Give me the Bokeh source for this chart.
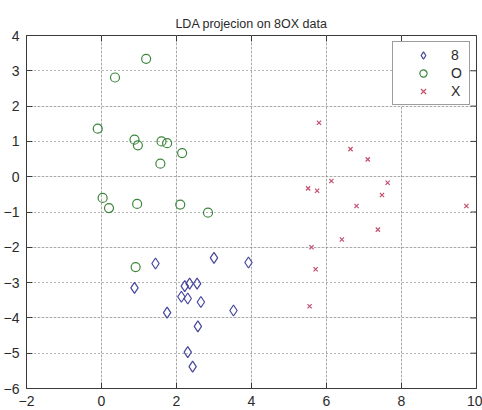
import math
from bokeh.plotting import figure
from bokeh.models import (LinearAxis, Range1d, FixedTicker, Legend, LegendItem,
                          Grid, ColumnDataSource)
from bokeh.embed import file_html
from bokeh.resources import INLINE

# ---- data ----
x_8 = [0.88, 1.44, 3.00, 3.92, 2.22, 2.35, 2.55, 2.13, 2.30, 2.65, 1.75, 3.52, 2.57, 2.30, 2.43]
y_8 = [-3.15, -2.46, -2.30, -2.43, -3.10, -3.03, -3.03, -3.40, -3.45, -3.55, -3.85, -3.79, -4.24, -4.97, -5.38]

x_O = [-0.10, 0.36, 1.19, 0.88, 0.97, 1.60, 1.75, 1.57, 2.15, 0.03, 0.20, 0.95, 2.10, 2.84, 0.91]
y_O = [1.36, 2.81, 3.34, 1.05, 0.89, 1.00, 0.95, 0.37, 0.67, -0.60, -0.89, -0.77, -0.79, -1.02, -2.56]

x_X = [5.80, 6.64, 7.10, 6.13, 5.51, 5.75, 7.63, 7.48, 6.80, 9.73, 7.37, 6.41, 5.60, 5.71, 5.55]
y_X = [1.53, 0.78, 0.49, -0.12, -0.33, -0.40, -0.17, -0.52, -0.83, -0.83, -1.50, -1.78, -2.00, -2.62, -3.67]

series_labels = ["8", "O", "X"]
title_text = "LDA projecion on 8OX data"
x_ticks = [-2, 0, 2, 4, 6, 8, 10]
y_ticks = [-6, -5, -4, -3, -2, -1, 0, 1, 2, 3, 4]
x_min, x_max = -2, 10
y_min, y_max = -6, 4

FONT = "Liberation Sans"
AX_COL = "#3a3a3a"
TXT_COL = "#2a2a2a"

p = figure(width=482, height=410, output_backend="svg", toolbar_location=None, tools="",
           x_range=Range1d(x_min, x_max), y_range=Range1d(y_min, y_max),
           x_axis_location=None, y_axis_location=None,
           min_border_left=25, min_border_right=6, min_border_top=35, min_border_bottom=22,
           background_fill_color="white", border_fill_color="white",
           outline_line_color=AX_COL, outline_line_width=1)

p.title.text = title_text
p.title.align = "center"
p.title.text_font = FONT
p.title.text_font_size = "12.5px"
p.title.text_font_style = "normal"
p.title.text_color = TXT_COL


def make_axis(ticks):
    ax = LinearAxis(ticker=FixedTicker(ticks=ticks))
    ax.major_tick_in = 6
    ax.major_tick_out = 0
    ax.minor_tick_line_color = None
    ax.axis_line_color = AX_COL
    ax.major_tick_line_color = AX_COL
    ax.major_label_text_font = FONT
    ax.major_label_text_font_size = "14px"
    ax.major_label_text_color = TXT_COL
    ax.major_label_standoff = 7
    return ax


p.add_layout(make_axis(x_ticks), "below")
p.add_layout(make_axis(y_ticks), "left")

for dim, ticks in ((0, x_ticks), (1, y_ticks)):
    g = Grid(dimension=dim, ticker=FixedTicker(ticks=ticks))
    g.grid_line_color = "#6a6a6a"
    g.grid_line_dash = "1 3"
    g.grid_line_width = 1
    p.add_layout(g)

# inward ticks on the top and right edges (box on)
p.ray(x=x_ticks, y=[y_max] * len(x_ticks), length=6, length_units="screen",
      angle=-math.pi / 2, line_color=AX_COL, line_width=1)
p.ray(x=[x_max] * len(y_ticks), y=y_ticks, length=6, length_units="screen",
      angle=math.pi, line_color=AX_COL, line_width=1)

src8 = ColumnDataSource(dict(x=x_8, y=y_8))
srcO = ColumnDataSource(dict(x=x_O, y=y_O))
srcX = ColumnDataSource(dict(x=x_X, y=y_X))

r8 = p.scatter("x", "y", source=src8, marker="diamond", size=11,
               fill_color=None, line_color="#46469c", line_width=1.2)
rO = p.scatter("x", "y", source=srcO, marker="circle", size=9,
               fill_color=None, line_color="#3c863c", line_width=1.2)
rX = p.scatter("x", "y", source=srcX, marker="x", size=6,
               line_color="#c4506e", line_width=1.2)

legend = Legend(items=[LegendItem(label=series_labels[0], renderers=[r8]),
                       LegendItem(label=series_labels[1], renderers=[rO]),
                       LegendItem(label=series_labels[2], renderers=[rX])],
                location="top_right", margin=6, padding=4, spacing=0,
                glyph_width=52, glyph_height=18, label_height=18, label_width=14,
                label_standoff=2,
                label_text_font=FONT, label_text_font_size="14px", label_text_color=TXT_COL,
                border_line_color=AX_COL, border_line_width=1,
                background_fill_color="white", background_fill_alpha=1)
p.add_layout(legend)

open("out.html", "w").write(file_html(p, INLINE))
